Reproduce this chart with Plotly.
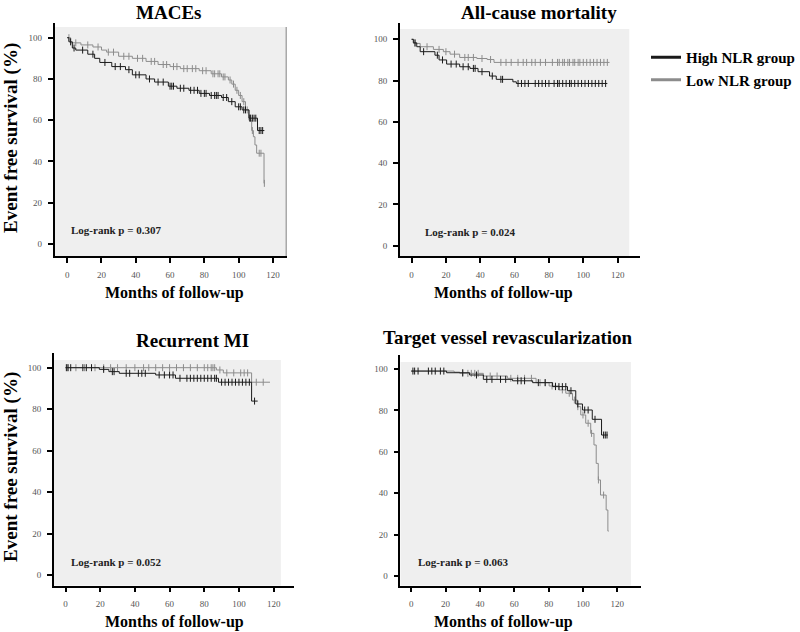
import numpy as np
import plotly.graph_objects as go

# ---------------- data ----------------
# MACEs
mace_high_t = [0, 1, 3, 5, 12, 16, 19, 26, 34, 38, 46, 51, 59, 64, 71, 77, 83, 90, 94, 98, 102, 106, 111, 115]
mace_high_s = [100, 98, 95, 94, 92, 90, 88, 86, 84.5, 82, 80, 78.5, 76.5, 75.5, 74.5, 73, 72, 71, 69, 66.5, 65, 61, 55, 55]
mace_low_t = [0, 2, 8, 15, 20, 23, 30, 38, 46, 53, 60, 66, 77, 84, 90, 94, 96, 98, 100, 102, 104, 106, 107.6, 108.6, 109.5, 110.5, 114.8, 115]
mace_low_s = [100, 97.5, 96.5, 95.5, 94, 93, 91, 90, 88.5, 87, 86, 85, 84, 82.5, 81, 79.5, 77.5, 74.5, 72, 69, 65, 60, 55, 52, 48, 44, 29.4, 29.4]
mace_high_c = [2, 4, 9, 15, 22, 28, 31, 36, 40, 42, 48, 53, 56, 60, 61, 62, 66, 68, 72, 74, 76, 78, 80, 81, 84, 86, 87, 88, 91, 93, 96, 100, 101, 103, 104, 106.5, 107, 108, 109, 110, 112, 113, 114]
mace_low_c = [1, 5, 12, 18, 24, 27, 33, 36, 41, 44, 49, 51, 56, 58, 62, 64, 68, 70, 73, 75, 79, 81, 85, 86, 88, 89, 91, 92, 95, 97, 99, 101, 103, 105, 108, 112, 113, 115]

# All-cause mortality
acm_high_t = [0, 1, 3, 5, 13.6, 16, 20.4, 28, 34, 38.7, 45.4, 49.3, 59, 61, 114]
acm_high_s = [100, 98.3, 96.4, 94, 92.3, 90, 88, 86.7, 85.9, 84.3, 82.2, 80.6, 79.4, 78.6, 78.6]
acm_low_t = [0, 1.2, 5, 12.7, 18.5, 22.4, 28, 38, 44, 48, 115.3]
acm_low_s = [100, 98, 96.4, 95.1, 94, 92.8, 91.2, 90.7, 90.2, 88.8, 88.8]
acm_high_c = [2, 7, 15, 18, 23, 26, 30, 33, 36, 37, 41, 47, 52, 53, 62, 64, 66, 68, 72, 74, 76, 78, 80, 83, 85, 86, 88, 90, 92, 93, 95, 97, 99, 101, 103, 105, 107, 109, 111, 113]
acm_low_c = [2, 9, 16, 20, 25, 31, 33, 36, 41, 46, 52, 55, 58, 62, 65, 67, 70, 72, 75, 78, 82, 85, 86, 88, 89, 91, 92, 94, 95, 97, 98, 100, 102, 104, 106, 108, 110, 112, 114]

# Recurrent MI
rmi_high_t = [0, 19.5, 25, 31, 52, 63.4, 88.2, 107.3, 110.8]
rmi_high_s = [100, 99.2, 98.1, 97.3, 96.5, 94.9, 93.0, 83.9, 83.9]
rmi_low_t = [0, 87, 91, 107.3, 117.9]
rmi_low_s = [100, 98.9, 97.5, 93.0, 93.0]
rmi_high_c = [0.5, 1.5, 3, 10, 12, 15, 22, 27, 28, 35, 37, 42, 44, 46, 54, 57, 60, 62, 66, 70, 72, 74, 76, 78, 80, 82, 84, 86, 87, 90, 92, 94, 96, 98, 100, 102, 104, 106, 109]
rmi_low_c = [1, 6, 11, 17, 22, 26, 30, 35, 40, 45, 48, 52, 56, 60, 64, 68, 72, 76, 80, 82, 84, 85, 86, 89, 93, 97, 101, 103, 105, 110, 114]

# Target vessel revascularization
tvr_high_t = [0, 20.6, 34, 42, 59, 70.7, 82.3, 91, 95.8, 99.7, 105.4, 110.8, 114.5]
tvr_high_s = [99, 98.2, 97.1, 95, 94.3, 93.4, 91.5, 89.5, 83.1, 80.2, 75.7, 68.1, 68.1]
tvr_low_t = [0, 25, 28.3, 42, 56, 72.7, 80.3, 86.1, 90, 93.9, 96.8, 98.7, 101.6, 104.5, 106.4, 107.7, 108.9, 110.2, 113.5, 114.5, 115]
tvr_low_s = [99, 98.5, 97.9, 96.6, 95.5, 93.4, 91.8, 89.9, 88.3, 85, 81.8, 77.8, 73.8, 68.9, 63.3, 54.4, 46.4, 39.1, 31.9, 21.7, 21.7]
tvr_high_c = [1, 2, 4, 10, 12, 14, 17, 19, 30, 38, 44, 47, 52, 55, 62, 64, 66, 74, 78, 84, 86, 88, 90, 93, 97, 101, 103, 107, 112, 113, 114]
tvr_low_c = [30, 33, 35, 37, 39, 46, 50, 58, 62, 66, 70, 75, 78, 82, 84, 88, 92, 95, 97, 100, 103, 105, 109, 112]

titles = ["MACEs", "All-cause mortality", "Recurrent MI", "Target vessel revascularization"]
pvals = ["Log-rank p = 0.307", "Log-rank p = 0.024", "Log-rank p = 0.052", "Log-rank p = 0.063"]
group_names = ["High NLR group", "Low NLR group"]
x_ticks = [0, 20, 40, 60, 80, 100, 120]
y_ticks = [0, 20, 40, 60, 80, 100]

series = [
    (mace_high_t, mace_high_s, mace_high_c, mace_low_t, mace_low_s, mace_low_c),
    (acm_high_t, acm_high_s, acm_high_c, acm_low_t, acm_low_s, acm_low_c),
    (rmi_high_t, rmi_high_s, rmi_high_c, rmi_low_t, rmi_low_s, rmi_low_c),
    (tvr_high_t, tvr_high_s, tvr_high_c, tvr_low_t, tvr_low_s, tvr_low_c),
]

# ---------------- layout geometry (page pixels) ----------------
W, H = 800, 632


def fx(px):
    return px / W


def fy(py):
    return 1 - py / H


panels = [
    dict(xl=55, xh=289, x0=67.7, x120=275.0, yt=23, yb=256, y0=244.0, y100=37.7, bgr=289, bgt=27),
    dict(xl=402.7, xh=645, x0=414.7, x120=622.3, yt=23, yb=256, y0=245.7, y100=39.3, bgr=634, bgt=29),
    dict(xl=54.3, xh=296, x0=66.0, x120=275.7, yt=352.7, yb=585.7, y0=575.0, y100=367.7, bgr=283, bgt=360),
    dict(xl=403.3, xh=645.7, x0=414.3, x120=622.0, yt=355, yb=585.7, y0=576.0, y100=369.0, bgr=635.7, bgt=362),
]
# (x centre, y, vertical anchor)
title_pos = [(170, 0, "top"), (543, 0, "top"), (194, 340, "middle"), (512, 337, "middle")]
xlab_pos = [(176, 293), (507, 293), (176, 622), (507, 622)]
p_pos = [(70, 230), (426, 232), (70, 562), (419, 562)]
ylab_pos = [(11, 138), (11, 467)]

BLACK = "#1a1a1a"
GRAY = "#8c8c8c"
SERIF = "Liberation Serif, Times New Roman, serif"


def step_val(t, s, c):
    t = np.asarray(t, float)
    s = np.asarray(s, float)
    idx = np.searchsorted(t, np.asarray(c, float), side="right") - 1
    return s[np.clip(idx, 0, len(s) - 1)]


fig = go.Figure()
shapes = []
annotations = []

for i, (p, ser) in enumerate(zip(panels, series)):
    n = "" if i == 0 else str(i + 1)
    xa, ya = "x" + n, "y" + n
    xs = (p["x120"] - p["x0"]) / 120.0
    ys = (p["y0"] - p["y100"]) / 100.0
    xr = [(p["xl"] - p["x0"]) / xs, (p["xh"] - p["x0"]) / xs]
    yr = [(p["y0"] - p["yb"]) / ys, (p["y0"] - p["yt"]) / ys]
    bg_x1 = (p["bgr"] - p["x0"]) / xs
    bg_y1 = (p["y0"] - p["bgt"]) / ys

    axis_common = dict(showline=True, linecolor="black", linewidth=1.5, ticks="outside",
                       ticklen=5, tickwidth=1.5, tickcolor="black", showgrid=False, zeroline=False,
                       tickfont=dict(family=SERIF, size=9, color="#555555"), ticklabelstandoff=4)
    fig.update_layout(**{
        ("xaxis" + n): dict(domain=[fx(p["xl"]), fx(p["xh"])], range=xr, anchor=ya,
                            tickvals=x_ticks, **axis_common),
        ("yaxis" + n): dict(domain=[fy(p["yb"]), fy(p["yt"])], range=yr, anchor=xa,
                            tickvals=y_ticks, **axis_common),
    })

    shapes.append(dict(type="rect", xref=xa, yref=ya, x0=xr[0], x1=bg_x1, y0=yr[0], y1=bg_y1,
                       fillcolor="#efefef", line=dict(width=0), layer="below"))
    if i == 0:
        shapes.append(dict(type="line", xref=xa, yref=ya, x0=bg_x1, x1=bg_x1, y0=yr[0], y1=bg_y1,
                           line=dict(color="#9a9a9a", width=2.5), layer="below"))

    ht, hs, hc, lt, ls, lc = ser
    for t, s, c, col in [(lt, ls, lc, GRAY), (ht, hs, hc, BLACK)]:
        fig.add_trace(go.Scatter(x=t, y=s, mode="lines", line=dict(color=col, width=1, shape="hv"),
                                 xaxis=xa, yaxis=ya, showlegend=False, hoverinfo="skip"))
        fig.add_trace(go.Scatter(x=c, y=step_val(t, s, c), mode="markers",
                                 marker=dict(symbol="line-ns", size=5, line=dict(color=col, width=1)),
                                 xaxis=xa, yaxis=ya, showlegend=False, hoverinfo="skip"))

    tx, ty, tanc = title_pos[i]
    annotations.append(dict(text="<b>%s</b>" % titles[i], x=fx(tx), y=fy(ty), xref="paper", yref="paper",
                            xanchor="center", yanchor=tanc, showarrow=False,
                            font=dict(family=SERIF, size=19, color="black")))
    lx, ly = xlab_pos[i]
    annotations.append(dict(text="<b>Months of follow-up</b>", x=fx(lx), y=fy(ly), xref="paper", yref="paper",
                            xanchor="center", yanchor="middle", showarrow=False,
                            font=dict(family=SERIF, size=16, color="black")))
    px_, py_ = p_pos[i]
    annotations.append(dict(text="<b>%s</b>" % pvals[i], x=fx(px_), y=fy(py_), xref="paper", yref="paper",
                            xanchor="left", yanchor="middle", showarrow=False,
                            font=dict(family=SERIF, size=11, color="#222222")))

for (yx, yy) in ylab_pos:
    annotations.append(dict(text="<b>Event free survival (%)</b>", x=fx(yx), y=fy(yy), xref="paper",
                            yref="paper", xanchor="center", yanchor="middle", textangle=-90, showarrow=False,
                            font=dict(family=SERIF, size=19, color="black")))

# legend entries
for name, col in zip(group_names, [BLACK, GRAY]):
    fig.add_trace(go.Scatter(x=[None], y=[None], mode="lines", name="<b>%s</b>" % name,
                             line=dict(color=col, width=3), xaxis="x2", yaxis="y2"))

fig.update_layout(
    width=W, height=H, margin=dict(l=0, r=0, t=0, b=0),
    paper_bgcolor="white", plot_bgcolor="rgba(0,0,0,0)",
    shapes=shapes, annotations=annotations,
    legend=dict(x=fx(651), y=fy(41), xanchor="left", yanchor="top", bgcolor="rgba(0,0,0,0)",
                font=dict(family=SERIF, size=15, color="black"), itemwidth=30, tracegroupgap=4),
)

fig.write_html("out.html", config={"displayModeBar": False},
               post_script="document.body.style.margin='0';document.body.style.overflow='hidden';")
